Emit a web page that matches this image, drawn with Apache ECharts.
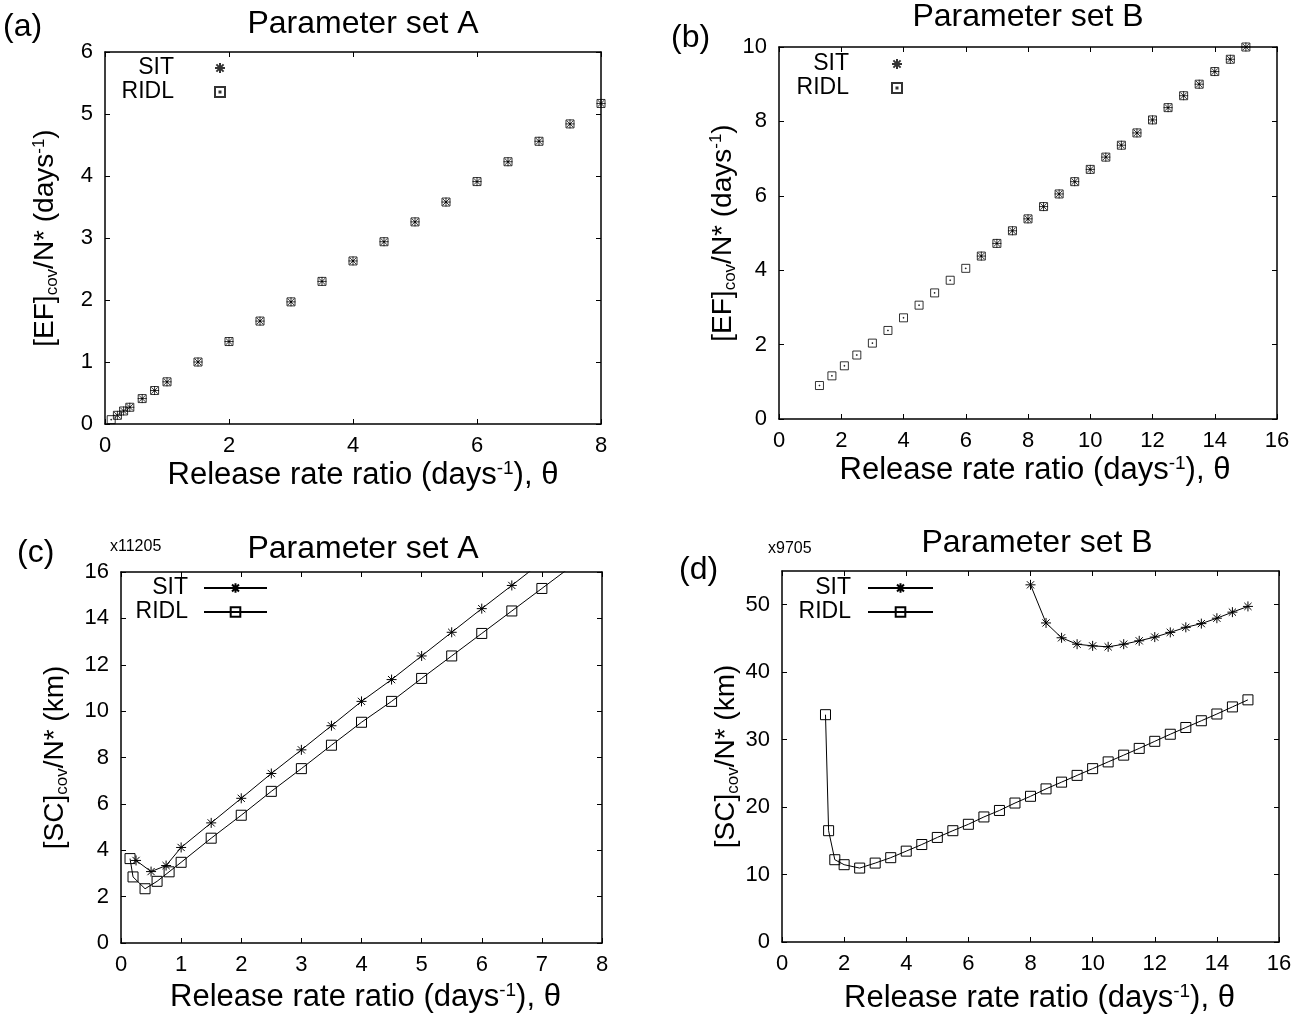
<!DOCTYPE html>
<html>
<head>
<meta charset="utf-8">
<script src="https://cdn.jsdelivr.net/npm/echarts@6/dist/echarts.min.js"></script>
<style>
html,body{margin:0;padding:0;background:#fff;}
#chart{width:1307px;height:1015px;}
</style>
</head>
<body>
<div id="chart"></div>
<script>
// ---------- Data ----------
// Panel (a): Parameter set A, [EF]cov/N*
const aRIDLTheta = [0.1,0.2,0.3,0.4,0.6,0.8,1,1.5,2,2.5,3,3.5,4,4.5,5,5.5,6,6.5,7,7.5,8];
const aRIDL      = [0.07,0.14,0.21,0.27,0.41,0.54,0.68,1.00,1.33,1.66,1.97,2.30,2.63,2.94,3.26,3.58,3.91,4.23,4.56,4.84,5.17];
const aSITTheta  = [0.2,0.3,0.4,0.6,0.8,1,1.5,2,2.5,3,3.5,4,4.5,5,5.5,6,6.5,7,7.5,8];
const aSIT       = [0.14,0.21,0.27,0.41,0.54,0.68,1.00,1.33,1.66,1.97,2.30,2.63,2.94,3.26,3.58,3.91,4.23,4.56,4.84,5.17];

// Panel (b): Parameter set B, [EF]cov/N*
const bRIDLTheta = [1.3,1.7,2.1,2.5,3,3.5,4,4.5,5,5.5,6,6.5,7,7.5,8,8.5,9,9.5,10,10.5,11,11.5,12,12.5,13,13.5,14,14.5,15];
const bRIDL      = [0.90,1.16,1.43,1.72,2.04,2.38,2.72,3.06,3.39,3.73,4.05,4.38,4.72,5.06,5.38,5.71,6.05,6.38,6.71,7.04,7.36,7.69,8.04,8.37,8.69,9.00,9.34,9.67,10.00];
const bSITTheta  = [6.5,7,7.5,8,8.5,9,9.5,10,10.5,11,11.5,12,12.5,13,13.5,14,14.5,15];
const bSIT       = [4.38,4.72,5.06,5.38,5.71,6.05,6.38,6.71,7.04,7.36,7.69,8.04,8.37,8.69,9.00,9.34,9.67,10.00];

// Panel (c): Parameter set A, [SC]cov/N* (x11205)
const cRIDLTheta = [0.15,0.2,0.4,0.6,0.8,1,1.5,2,2.5,3,3.5,4,4.5,5,5.5,6,6.5,7,7.5];
const cRIDL      = [3.64,2.85,2.34,2.66,3.07,3.48,4.52,5.51,6.54,7.52,8.53,9.52,10.42,11.41,12.38,13.35,14.32,15.29,16.26];
const cSITTheta  = [0.25,0.5,0.75,1,1.5,2,2.5,3,3.5,4,4.5,5,5.5,6,6.5,7];
const cSIT       = [3.56,3.08,3.34,4.12,5.18,6.24,7.31,8.33,9.37,10.42,11.36,12.38,13.40,14.42,15.42,16.44];

// Panel (d): Parameter set B, [SC]cov/N* (x9705)
const dRIDLTheta = [1.4,1.5,1.7,2,2.5,3,3.5,4,4.5,5,5.5,6,6.5,7,7.5,8,8.5,9,9.5,10,10.5,11,11.5,12,12.5,13,13.5,14,14.5,15];
const dRIDL      = [33.7,16.5,12.2,11.46,10.96,11.7,12.5,13.47,14.45,15.5,16.5,17.45,18.54,19.5,20.6,21.6,22.7,23.7,24.7,25.7,26.7,27.7,28.7,29.75,30.8,31.8,32.8,33.8,34.85,35.9];
const dSITTheta  = [8,8.5,9,9.5,10,10.5,11,11.5,12,12.5,13,13.5,14,14.5,15];
const dSIT       = [52.95,47.3,45.1,44.15,43.9,43.76,44.15,44.65,45.2,45.9,46.65,47.2,48.0,48.9,49.75];

// Tick values
const yTicksD = [0,10,20,30,40,50];

// ---------- Styling ----------
const FF = '"Liberation Sans", Arial, Helvetica, sans-serif';
const zip = (xs, ys) => xs.map((x, i) => [x, ys[i]]);
const STAR = 'path://M0,-5L0,5M-5,0L5,0M-3.6,-3.6L3.6,3.6M-3.6,3.6L3.6,-3.6';
const SQDOT = 'path://M-5,-5L5,-5L5,5L-5,5ZM-0.5,-0.5L0.5,-0.5L0.5,0.5L-0.5,0.5Z';
const SQ = 'path://M-5,-5L5,-5L5,5L-5,5Z';

const grids = [
  {left:105, top:52, width:496, height:372},
  {left:779, top:47, width:498, height:372},
  {left:121, top:572, width:481, height:371},
  {left:782, top:571, width:497, height:372}
];

function nameStyle(size, padLeft) {
  return {
    fontSize: size, color:'#000', fontFamily: FF,
    padding: [0, 0, 0, padLeft || 0],
    rich: {
      sub: {fontSize: Math.round(size*0.6), color:'#000', fontFamily: FF, padding:[Math.round(size*0.5),0,0,0]},
      sup: {fontSize: Math.round(size*0.6), color:'#000', fontFamily: FF, padding:[0,0,Math.round(size*0.45),0]}
    }
  };
}
const XNAME = 'Release rate ratio (days{sup|-1}), θ';

function xMain(g, min, max, interval, nameGap, padLeft) {
  return {
    type:'value', gridIndex:g, min, max, interval, position:'bottom',
    name: XNAME, nameLocation:'middle', nameGap, nameTextStyle: nameStyle(31, padLeft),
    axisLine:{show:true, onZero:false, lineStyle:{color:'#000', width:1.5}},
    axisTick:{show:true, inside:true, length:5, lineStyle:{color:'#000', width:1}},
    axisLabel:{show:true, margin:11, fontSize:22, color:'#000', fontFamily:FF},
    splitLine:{show:false}
  };
}
function xMirror(g, min, max, interval) {
  return {
    type:'value', gridIndex:g, min, max, interval, position:'top',
    axisLine:{show:true, onZero:false, lineStyle:{color:'#000', width:1.5}},
    axisTick:{show:true, inside:true, length:5, lineStyle:{color:'#000', width:1}},
    axisLabel:{show:false}, splitLine:{show:false}
  };
}
function yMain(g, min, max, interval, name, nameGap, extra) {
  const ax = {
    type:'value', gridIndex:g, min, max, interval, position:'left',
    name, nameLocation:'middle', nameGap, nameRotate:90, nameTextStyle: nameStyle(28),
    axisLine:{show:true, onZero:false, lineStyle:{color:'#000', width:1.5}},
    axisTick:{show:true, inside:true, length:5, lineStyle:{color:'#000', width:1}},
    axisLabel:{show:true, margin:12, fontSize:22, color:'#000', fontFamily:FF},
    splitLine:{show:false}
  };
  if (extra) { Object.assign(ax.axisTick, extra.tick); Object.assign(ax.axisLabel, extra.label); }
  return ax;
}
function yMirror(g, min, max, interval, extra) {
  const ax = {
    type:'value', gridIndex:g, min, max, interval, position:'right',
    axisLine:{show:true, onZero:false, lineStyle:{color:'#000', width:1.5}},
    axisTick:{show:true, inside:true, length:5, lineStyle:{color:'#000', width:1}},
    axisLabel:{show:false}, splitLine:{show:false}
  };
  if (extra) { Object.assign(ax.axisTick, extra.tick); }
  return ax;
}

const EF = '[EF]{sub|cov}/N* (days{sup|-1})';
const SC = '[SC]{sub|cov}/N* (km)';
const dExtra = {tick:{customValues:yTicksD}, label:{customValues:yTicksD}};

const xAxis = [
  xMain(0, 0, 8, 2, 35, 20), xMirror(0, 0, 8, 2),
  xMain(1, 0, 16, 2, 35, 14), xMirror(1, 0, 16, 2),
  xMain(2, 0, 8, 1, 38, 8), xMirror(2, 0, 8, 1),
  xMain(3, 0, 16, 2, 40, 18), xMirror(3, 0, 16, 2)
];
const yAxis = [
  yMain(0, 0, 6, 1, EF, 44), yMirror(0, 0, 6, 1),
  yMain(1, 0, 10, 2, EF, 40), yMirror(1, 0, 10, 2),
  yMain(2, 0, 16, 2, SC, 50), yMirror(2, 0, 16, 2),
  yMain(3, 0, 55, 10, SC, 33, dExtra), yMirror(3, 0, 55, 10, dExtra)
];

const markStyle = {color:'rgba(0,0,0,0)', borderColor:'#000', borderWidth:1};
function scat(name, xi, yi, sym, size, data, z) {
  return {type:'scatter', name, xAxisIndex:xi, yAxisIndex:yi, symbol:sym, symbolSize:size,
          itemStyle:markStyle, data, z, emphasis:{disabled:true}, clip:false};
}
function line(name, xi, yi, sym, size, data) {
  return {type:'line', name, xAxisIndex:xi, yAxisIndex:yi, symbol:sym, symbolSize:size, showSymbol:true,
          itemStyle:markStyle, lineStyle:{color:'#000', width:1}, data, clip:true, emphasis:{disabled:true}};
}

const series = [
  scat('SIT_a', 0, 0, STAR, 9, zip(aSITTheta, aSIT), 3),
  scat('RIDL_a', 0, 0, SQDOT, 8, zip(aRIDLTheta, aRIDL), 2),
  scat('SIT_b', 2, 2, STAR, 9, zip(bSITTheta, bSIT), 3),
  scat('RIDL_b', 2, 2, SQDOT, 8, zip(bRIDLTheta, bRIDL), 2),
  line('SIT_c', 4, 4, STAR, 10, zip(cSITTheta, cSIT)),
  line('RIDL_c', 4, 4, SQ, 10, zip(cRIDLTheta, cRIDL)),
  line('SIT_d', 6, 6, STAR, 10, zip(dSITTheta, dSIT)),
  line('RIDL_d', 6, 6, SQ, 10, zip(dRIDLTheta, dRIDL))
];

function legend(p, right, top, iw, ih, padR) {
  return {
    data:['SIT_' + p, 'RIDL_' + p], orient:'vertical', align:'right', right, top,
    itemWidth:iw, itemHeight:ih, itemGap:0, padding:0, selectedMode:false,
    formatter: n => n.split('_')[0],
    textStyle:{fontSize:23, color:'#000', fontFamily:FF, lineHeight:24, padding:[0,padR,0,0]}
  };
}

function txt(x, y, text, size, align) {
  return {type:'text', x, y, silent:true,
    style:{text, fill:'#000', font: size + 'px ' + FF, textAlign: align || 'left', textVerticalAlign:'middle'}};
}

const option = {
  animation:false,
  backgroundColor:'#fff',
  grid: grids,
  xAxis, yAxis, series,
  legend: [
    legend('a', 1081, 56, 10, 10, 36),
    legend('b', 404, 52, 10, 10, 38),
    legend('c', 1039, 576, 63, 12, 11),
    legend('d', 373, 576, 65, 12, 12)
  ],
  graphic: [
    txt(3, 27, '(a)', 32), txt(363, 24, 'Parameter set A', 32, 'center'),
    txt(671, 38, '(b)', 32), txt(1028, 17, 'Parameter set B', 32, 'center'),
    txt(17, 553, '(c)', 32), txt(363, 549, 'Parameter set A', 32, 'center'),
    txt(110, 547, 'x11205', 16),
    txt(679, 570, '(d)', 32), txt(1037, 543, 'Parameter set B', 32, 'center'),
    txt(768, 549, 'x9705', 16)
  ]
};

const chart = echarts.init(document.getElementById('chart'), null, {renderer:'canvas'});
chart.setOption(option);
</script>
</body>
</html>
